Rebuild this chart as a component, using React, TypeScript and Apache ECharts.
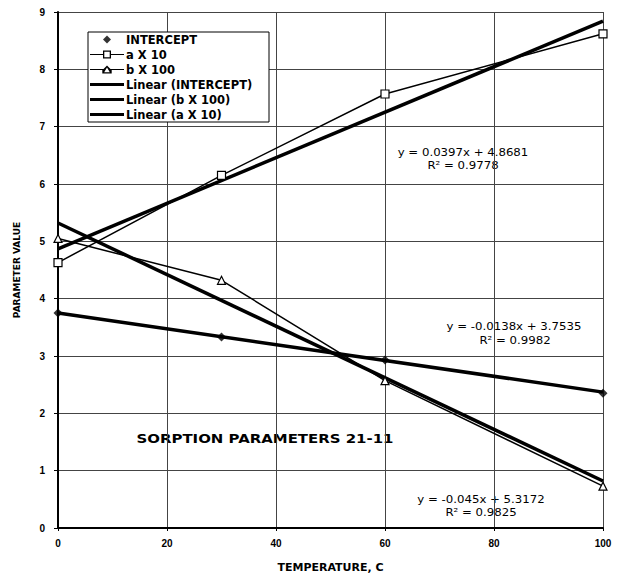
import React, { useEffect, useRef } from "react";
import * as echarts from "echarts";

const temps = [0, 30, 60, 100];
const interceptVals = [3.75, 3.33, 2.93, 2.35];
const aX10Vals = [4.63, 6.15, 7.57, 8.62];
const bX100Vals = [5.05, 4.32, 2.57, 0.73];

const trendX = [0, 100];
const trendIntercept = [3.75, 2.37];
const trendB = [5.32, 0.82];
const trendA = [4.87, 8.84];

const xTicks = [0, 20, 40, 60, 80, 100];
const yTicks = [0, 1, 2, 3, 4, 5, 6, 7, 8, 9];

const FONT = "'DejaVu Sans', 'Liberation Sans', Arial, sans-serif";
const TICKFONT = "'Liberation Sans', Arial, sans-serif";

const pair = (xs: number[], ys: number[]) => xs.map((x, i) => [x, ys[i]]);

// legend icons (degenerate anchor points keep the bounding box fixed at 34x10)
const ICON_THICK = "path://M0,0L0,0M34,10L34,10M0,3.5H34V6.5H0Z";
const ICON_DIAMOND = "path://M0,0L0,0M34,10L34,10M17,1L21,5L17,9L13,5Z";
const ICON_SQUARE =
  "path://M0,0L0,0M34,10L34,10M0,4.4H13V1H21V4.4H34V5.6H21V9H13V5.6H0Z M14.3,2.3V7.7H19.7V2.3Z";
const ICON_TRI =
  "path://M0,0L0,0M34,10L34,10M0,4.4H13.5L17,1L20.5,4.4H34V5.6H21.7L21.7,9H12.3L12.3,5.6H0Z M14.2,7.7H19.8L17,3Z";

export default function App() {
  const ref = useRef<HTMLDivElement>(null);
  useEffect(() => {
    const chart = echarts.init(ref.current!, null, { renderer: "svg" });
    const txt = (text: string, x: number, y: number, size = 10.5, weight = "normal", sx = 1.12) => ({
      type: "text",
      x,
      y,
      scaleX: sx,
      style: {
        text,
        fill: "#000",
        font: `${weight} ${size}px ${FONT}`,
        align: "center",
        verticalAlign: "middle",
      },
    });
    chart.setOption({
      animation: false,
      backgroundColor: "#fff",
      grid: { left: 58, right: 16, top: 12, bottom: 43, containLabel: false },
      xAxis: {
        type: "value",
        min: xTicks[0],
        max: xTicks[xTicks.length - 1],
        interval: 20,
        name: "TEMPERATURE, C",
        nameLocation: "middle",
        nameGap: 34,
        nameTextStyle: { fontFamily: FONT, fontWeight: "bold", fontSize: 11, color: "#000" },
        axisLine: { lineStyle: { color: "#000", width: 2 } },
        axisTick: { show: true, length: 3, lineStyle: { color: "#000" } },
        axisLabel: { fontFamily: TICKFONT, fontWeight: "bold", fontSize: 10, color: "#000", margin: 10 },
        splitLine: { show: true, lineStyle: { color: "#444", width: 1 } },
      },
      yAxis: {
        type: "value",
        min: yTicks[0],
        max: yTicks[yTicks.length - 1],
        interval: 1,
        name: "PARAMETER VALUE",
        nameLocation: "middle",
        nameGap: 37,
        nameRotate: 90,
        nameTextStyle: { fontFamily: FONT, fontWeight: "bold", fontSize: 9, color: "#000" },
        axisLine: { show: true, lineStyle: { color: "#000", width: 2 } },
        axisTick: { show: true, length: 4, lineStyle: { color: "#000" } },
        axisLabel: { fontFamily: TICKFONT, fontWeight: "bold", fontSize: 10, color: "#000", margin: 13 },
        splitLine: { show: true, lineStyle: { color: "#444", width: 1 } },
      },
      legend: {
        orient: "vertical",
        left: 88,
        top: 32,
        padding: [1, 3, 1, 2],
        itemGap: 2,
        itemWidth: 34,
        itemHeight: 10,
        backgroundColor: "#fff",
        borderColor: "#000",
        borderWidth: 1,
        borderRadius: 0,
        textStyle: {
          fontFamily: FONT,
          fontWeight: "bold",
          fontSize: 11.5,
          lineHeight: 13,
          color: "#000",
          width: 140,
          padding: [0, 0, 0, -3],
        },
        itemStyle: { color: "#000", borderWidth: 0 },
        data: [
          { name: "INTERCEPT", icon: ICON_DIAMOND },
          { name: "a X 10", icon: ICON_SQUARE },
          { name: "b X 100", icon: ICON_TRI },
          { name: "Linear (INTERCEPT)", icon: ICON_THICK },
          { name: "Linear (b X 100)", icon: ICON_THICK },
          { name: "Linear (a X 10)", icon: ICON_THICK },
        ],
      },
      series: [
        {
          name: "Linear (INTERCEPT)",
          type: "line",
          data: pair(trendX, trendIntercept),
          symbol: "none",
          color: "#000",
          itemStyle: { color: "#000" },
          lineStyle: { color: "#000", width: 3.5 },
          z: 2,
        },
        {
          name: "Linear (b X 100)",
          type: "line",
          data: pair(trendX, trendB),
          symbol: "none",
          color: "#000",
          itemStyle: { color: "#000" },
          lineStyle: { color: "#000", width: 3.5 },
          z: 2,
        },
        {
          name: "Linear (a X 10)",
          type: "line",
          data: pair(trendX, trendA),
          symbol: "none",
          color: "#000",
          itemStyle: { color: "#000" },
          lineStyle: { color: "#000", width: 3.5 },
          z: 2,
        },
        {
          name: "INTERCEPT",
          type: "scatter",
          data: pair(temps, interceptVals),
          symbol: "diamond",
          symbolSize: 9,
          color: "#000",
          itemStyle: { color: "#000" },
          z: 4,
        },
        {
          name: "a X 10",
          type: "line",
          data: pair(temps, aX10Vals),
          symbol: "rect",
          symbolSize: 8,
          showAllSymbol: true,
          color: "#000",
          lineStyle: { color: "#000", width: 1.5 },
          itemStyle: { color: "#fff", borderColor: "#000", borderWidth: 1.2 },
          z: 3,
        },
        {
          name: "b X 100",
          type: "line",
          data: pair(temps, bX100Vals),
          symbol: "triangle",
          symbolSize: 8,
          showAllSymbol: true,
          color: "#000",
          lineStyle: { color: "#000", width: 1.5 },
          itemStyle: { color: "#fff", borderColor: "#000", borderWidth: 1.2 },
          z: 3,
        },
      ],
      graphic: [
        txt("y = 0.0397x + 4.8681", 463, 153),
        txt("R² = 0.9778", 463, 166),
        txt("y = -0.0138x + 3.7535", 514, 327),
        txt("R² = 0.9982", 515, 341),
        txt("y = -0.045x + 5.3172", 481, 500),
        txt("R² = 0.9825", 481, 513),
        txt("SORPTION PARAMETERS 21-11", 265, 439, 11.5, "bold", 1.3),
      ],
    });
    return () => chart.dispose();
  }, []);
  return <div ref={ref} style={{ position: "fixed", left: 0, top: 0, width: 619, height: 578 }} />;
}
